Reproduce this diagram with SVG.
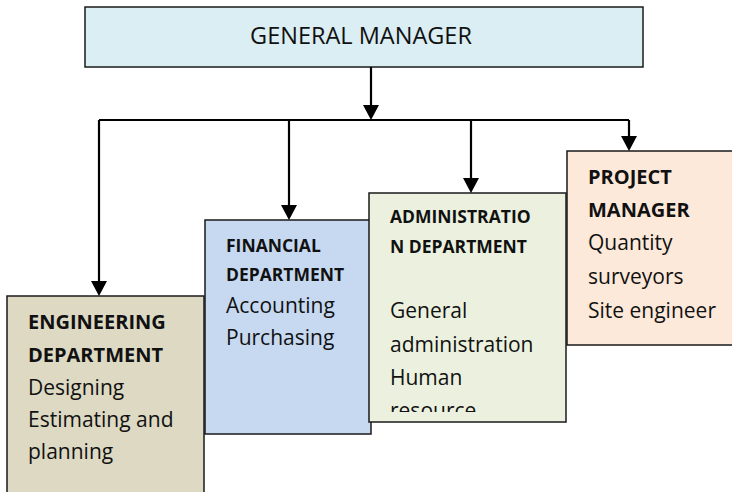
<svg xmlns="http://www.w3.org/2000/svg" width="732" height="492" viewBox="0 0 732 492">
<style>
.box{stroke:#1a1a1a;stroke-width:1.5}
.t{font-family:"Open Sans","Liberation Sans",sans-serif;fill:#111}
.r{font-size:21px}
.bh{font-size:20px;font-weight:bold}
.bs{font-size:17.5px;font-weight:bold}
.con{stroke:#000;stroke-width:2.2;fill:none}
</style>
<defs>
<marker id="ah" markerWidth="16" markerHeight="15" refX="8" refY="15" orient="auto-start-reverse" markerUnits="userSpaceOnUse" viewBox="0 0 16 15">
<path d="M0,0 L16,0 L8,15 Z" fill="#000"/>
</marker>
<clipPath id="admClip"><rect x="369" y="193" width="197" height="219"/></clipPath>
</defs>

<g id="general-manager">
<rect class="box" x="85" y="7" width="558" height="60" fill="#daeef3"/>
<text class="t" x="361" y="44" font-size="23.5" text-anchor="middle">GENERAL MANAGER</text>
</g>

<g id="engineering">
<rect class="box" x="7" y="296" width="197" height="210" fill="#ddd9c3"/>
<text class="t bh" x="28" y="329">ENGINEERING</text>
<text class="t bh" x="28" y="362">DEPARTMENT</text>
<text class="t r" x="28" y="395">Designing</text>
<text class="t r" x="28" y="427">Estimating and</text>
<text class="t r" x="28" y="459">planning</text>
</g>

<g id="financial">
<rect class="box" x="205" y="220" width="166" height="214" fill="#c6d9f1"/>
<text class="t bs" x="226" y="252">FINANCIAL</text>
<text class="t bs" x="226" y="281">DEPARTMENT</text>
<text class="t r" x="226" y="313">Accounting</text>
<text class="t r" x="226" y="345">Purchasing</text>
</g>

<g id="administration">
<rect class="box" x="369" y="193" width="197" height="229" fill="#ebf1de"/>
<g clip-path="url(#admClip)">
<text class="t bs" x="390" y="223">ADMINISTRATIO</text>
<text class="t bs" x="390" y="253">N DEPARTMENT</text>
<text class="t r" x="390" y="318">General</text>
<text class="t r" x="390" y="352">administration</text>
<text class="t r" x="390" y="385">Human</text>
<text class="t r" x="390" y="418">resource</text>
</g>
</g>

<g id="project-manager">
<rect class="box" x="567" y="151" width="170" height="194" fill="#fde9d9"/>
<text class="t bh" x="588" y="184">PROJECT</text>
<text class="t bh" x="588" y="217">MANAGER</text>
<text class="t r" x="588" y="250">Quantity</text>
<text class="t r" x="588" y="284">surveyors</text>
<text class="t r" x="588" y="318">Site engineer</text>
</g>

<g id="connectors">
<path class="con" d="M371,67 V105"/>
<path d="M363,105 L379,105 L371,120 Z" fill="#000"/>
<path class="con" d="M99,120 H629"/>
<path class="con" d="M99,120 V281"/>
<path d="M91,281 L107,281 L99,296 Z" fill="#000"/>
<path class="con" d="M289,120 V205"/>
<path d="M281,205 L297,205 L289,220 Z" fill="#000"/>
<path class="con" d="M471,120 V178"/>
<path d="M463,178 L479,178 L471,193 Z" fill="#000"/>
<path class="con" d="M629,120 V136"/>
<path d="M621,136 L637,136 L629,151 Z" fill="#000"/>
</g>
</svg>
